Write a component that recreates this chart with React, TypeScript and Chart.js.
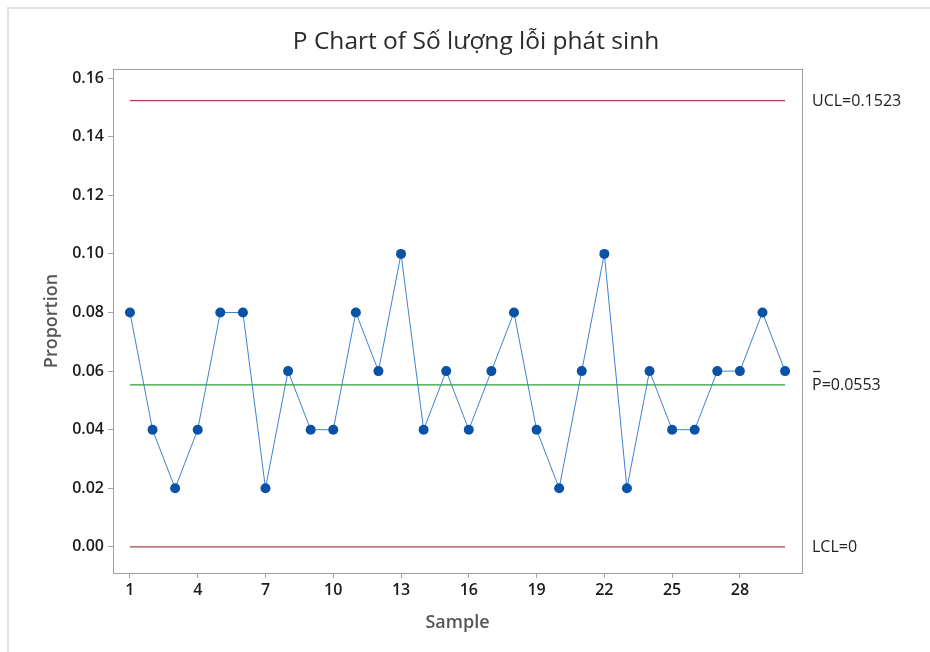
import React, { useEffect, useRef } from "react";
import { Chart, registerables } from "chart.js";

Chart.register(...registerables);

const samples = [1, 2, 3, 4, 5, 6, 7, 8, 9, 10, 11, 12, 13, 14, 15, 16, 17, 18, 19, 20, 21, 22, 23, 24, 25, 26, 27, 28, 29, 30];
const proportions = [0.08, 0.04, 0.02, 0.04, 0.08, 0.08, 0.02, 0.06, 0.04, 0.04, 0.08, 0.06, 0.10, 0.04, 0.06, 0.04, 0.06, 0.08, 0.04, 0.02, 0.06, 0.10, 0.02, 0.06, 0.04, 0.04, 0.06, 0.06, 0.08, 0.06];
const xTickValues = [1, 4, 7, 10, 13, 16, 19, 22, 25, 28];
const yTickValues = [0, 0.02, 0.04, 0.06, 0.08, 0.1, 0.12, 0.14, 0.16];
const UCL = 0.1523;
const CL = 0.0553;
const LCL = 0;
const titleText = "P Chart of Số lượng lỗi phát sinh";
const limitLabels = [
  { value: UCL, text: "UCL=0.1523", bar: false },
  { value: CL, text: "P=0.0553", bar: true },
  { value: LCL, text: "LCL=0", bar: false },
];

const FONT = "'Open Sans', 'Noto Sans', sans-serif";

export default function App() {
  const ref = useRef<HTMLCanvasElement | null>(null);
  useEffect(() => {
    if (!ref.current) return;
    const first = samples[0];
    const last = samples[samples.length - 1];
    const extras = {
      id: "extras",
      beforeDraw(chart: any) {
        const ctx = chart.ctx;
        ctx.save();
        ctx.fillStyle = "#ffffff";
        ctx.fillRect(0, 0, chart.width, chart.height);
        ctx.strokeStyle = "#e2e2e2";
        ctx.lineWidth = 2;
        ctx.beginPath();
        ctx.moveTo(8, chart.height);
        ctx.lineTo(8, 8);
        ctx.lineTo(chart.width, 8);
        ctx.stroke();
        ctx.restore();
      },
      afterDraw(chart: any) {
        const ctx = chart.ctx;
        const a = chart.chartArea;
        const ys = chart.scales.y;
        ctx.save();
        ctx.strokeStyle = "#a0a0a0";
        ctx.lineWidth = 1;
        ctx.strokeRect(a.left + 0.5, a.top + 0.5, a.right - a.left, a.bottom - a.top);
        ctx.fillStyle = "#2b2b2b";
        ctx.font = `500 24.5px ${FONT}`;
        ctx.textAlign = "center";
        ctx.textBaseline = "middle";
        ctx.fillText(titleText, 476, 42);
        ctx.font = `16px ${FONT}`;
        ctx.textAlign = "left";
        ctx.fillStyle = "#222222";
        for (const l of limitLabels) {
          const y = ys.getPixelForValue(l.value);
          ctx.fillText(l.text, a.right + 10, y + 1);
          if (l.bar) {
            const w = ctx.measureText("P").width;
            ctx.fillRect(a.right + 11, y - 14, w - 2, 1.2);
          }
        }
        ctx.restore();
      },
    };
    const chart = new Chart(ref.current, {
      type: "line",
      data: {
        datasets: [
          {
            data: samples.map((s, i) => ({ x: s, y: proportions[i] })),
            borderColor: "#3f82cf",
            borderWidth: 1,
            pointRadius: 5,
            pointBackgroundColor: "#0a52a5",
            pointBorderColor: "#0a52a5",
            pointBorderWidth: 0,
          },
          {
            data: [{ x: first, y: CL }, { x: last, y: CL }],
            borderColor: "#2f9e34",
            borderWidth: 1.3,
            pointRadius: 0,
          },
          {
            data: [{ x: first, y: UCL }, { x: last, y: UCL }],
            borderColor: "#a8474a",
            borderWidth: 1.3,
            pointRadius: 0,
          },
          {
            data: [{ x: first, y: LCL }, { x: last, y: LCL }],
            borderColor: "#a8474a",
            borderWidth: 1.3,
            pointRadius: 0,
          },
        ],
      },
      options: {
        animation: false,
        responsive: false,
        maintainAspectRatio: false,
        layout: { padding: { left: 0, right: 128, top: 69, bottom: 0 } },
        plugins: { legend: { display: false }, tooltip: { enabled: false }, title: { display: false } },
        scales: {
          x: {
            type: "linear",
            min: 0.25,
            max: 30.75,
            afterFit: (s: any) => { s.height = 79; },
            afterBuildTicks: (s: any) => { s.ticks = xTickValues.map((v) => ({ value: v })); },
            grid: { display: true, drawOnChartArea: false, tickLength: 5, color: "#a0a0a0" },
            border: { display: true, color: "#a0a0a0" },
            ticks: {
              autoSkip: false,
              maxRotation: 0,
              padding: 3,
              color: "#1a1a1a",
              font: { family: FONT, size: 16, weight: "600" },
              callback: (v: any) => String(v),
            },
            title: {
              display: true,
              text: "Sample",
              color: "#555555",
              font: { family: FONT, size: 18, weight: "600" },
              padding: { top: 0, bottom: 18.6 },
            },
          },
          y: {
            type: "linear",
            min: -0.0089,
            max: 0.1631,
            afterFit: (s: any) => { s.width = 113; },
            afterBuildTicks: (s: any) => { s.ticks = yTickValues.map((v) => ({ value: v })); },
            grid: { display: true, drawOnChartArea: false, tickLength: 5, color: "#a0a0a0" },
            border: { display: true, color: "#a0a0a0" },
            ticks: {
              padding: 4,
              color: "#1a1a1a",
              font: { family: FONT, size: 16, weight: "600" },
              callback: (v: any) => Number(v).toFixed(2),
            },
            title: {
              display: true,
              text: "Proportion",
              color: "#555555",
              font: { family: FONT, size: 18, weight: "600" },
              padding: { top: 40.6, bottom: 0 },
            },
          },
        },
      },
      plugins: [extras],
    });
    return () => chart.destroy();
  }, []);
  return (
    <div style={{ position: "fixed", left: 0, top: 0, width: 930, height: 652, background: "#fff" }}>
      <canvas ref={ref} width={930} height={652} style={{ width: 930, height: 652, display: "block" }} />
    </div>
  );
}
